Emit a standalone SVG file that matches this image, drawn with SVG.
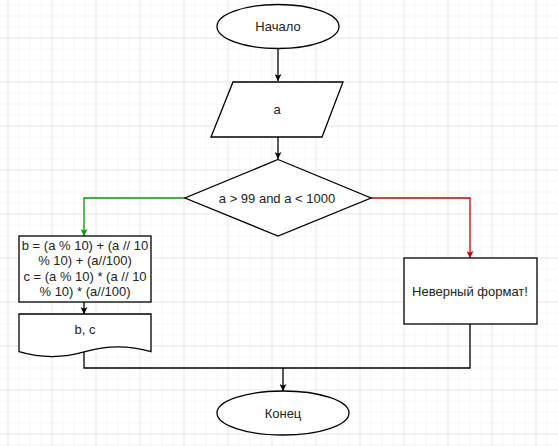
<svg xmlns="http://www.w3.org/2000/svg" width="558" height="446" viewBox="0 0 558 446">
<defs>
<pattern id="minor" x="7.5" y="4.5" width="11" height="11" patternUnits="userSpaceOnUse">
<path d="M0,0 H11 M0,0 V11" fill="none" stroke="#efefef" stroke-width="1"/>
</pattern>
<pattern id="major" x="7.5" y="37.5" width="44" height="44" patternUnits="userSpaceOnUse">
<path d="M0,0 H44 M0,0 V44" fill="none" stroke="#d9d9d9" stroke-width="1"/>
</pattern>
<marker id="ab" viewBox="0 0 10 10" refX="10" refY="5" markerWidth="7" markerHeight="7" markerUnits="userSpaceOnUse" orient="auto">
<path d="M0,0 L10,5 L0,10 L2.5,5 Z" fill="#000"/>
</marker>
<marker id="ag" viewBox="0 0 10 10" refX="10" refY="5" markerWidth="7" markerHeight="7" markerUnits="userSpaceOnUse" orient="auto">
<path d="M0,0 L10,5 L0,10 L2.5,5 Z" fill="#009900"/>
</marker>
<marker id="ar" viewBox="0 0 10 10" refX="10" refY="5" markerWidth="7" markerHeight="7" markerUnits="userSpaceOnUse" orient="auto">
<path d="M0,0 L10,5 L0,10 L2.5,5 Z" fill="#CC0000"/>
</marker>
</defs>
<style>
.shape{fill:#fff;stroke:#000;stroke-width:1.3}
.t{font-family:"Liberation Sans",Arial,sans-serif;font-size:13px;fill:#222;text-anchor:middle;dominant-baseline:central}
.c{fill:none;stroke-width:1.3}
</style>
<rect width="558" height="446" fill="#fff"/>
<rect width="558" height="446" fill="url(#minor)"/>
<rect width="558" height="446" fill="url(#major)"/>
<g id="connectors">
<path class="c" d="M278,48 V81" stroke="#000" marker-end="url(#ab)"/>
<path class="c" d="M278,137 V159" stroke="#000" marker-end="url(#ab)"/>
<path class="c" d="M185,198 H84 V236" stroke="#009900" marker-end="url(#ag)"/>
<path class="c" d="M371,198 H470 V258" stroke="#CC0000" marker-end="url(#ar)"/>
<path class="c" d="M84,302 V314" stroke="#000" marker-end="url(#ab)"/>
<path class="c" d="M84,352 V368 H470 V324" stroke="#000"/>
<path class="c" d="M283,368 V391" stroke="#000" marker-end="url(#ab)"/>
</g>
<g id="start">
<ellipse class="shape" cx="278" cy="26.5" rx="61" ry="22"/>
<text class="t" x="278" y="26.5">Начало</text>
</g>
<g id="input">
<path class="shape" d="M233,82 H343 L322,137 H211 Z"/>
<text class="t" x="277" y="109.5">a</text>
</g>
<g id="decision">
<path class="shape" d="M278,159.5 L371,198 L278,236 L185,198 Z"/>
<text class="t" x="277" y="198">a &gt; 99 and a &lt; 1000</text>
</g>
<g id="calc">
<rect class="shape" x="19" y="236" width="132" height="66"/>
<text class="t" x="85" y="245">b = (a % 10) + (a // 10</text>
<text class="t" x="85" y="260.5">% 10) + (a//100)</text>
<text class="t" x="85" y="276">c = (a % 10) * (a // 10</text>
<text class="t" x="85" y="291.5">% 10) * (a//100)</text>
</g>
<g id="output">
<path class="shape" d="M19,314 H151 V351.7 Q118,341.9 85,351.7 Q52,361.5 19,351.7 Z"/>
<text class="t" x="85" y="329">b, c</text>
</g>
<g id="error">
<rect class="shape" x="404" y="258" width="133" height="66"/>
<text class="t" x="470" y="291">Неверный формат!</text>
</g>
<g id="end">
<ellipse class="shape" cx="283" cy="413" rx="66" ry="22"/>
<text class="t" x="283" y="413">Конец</text>
</g>
</svg>
